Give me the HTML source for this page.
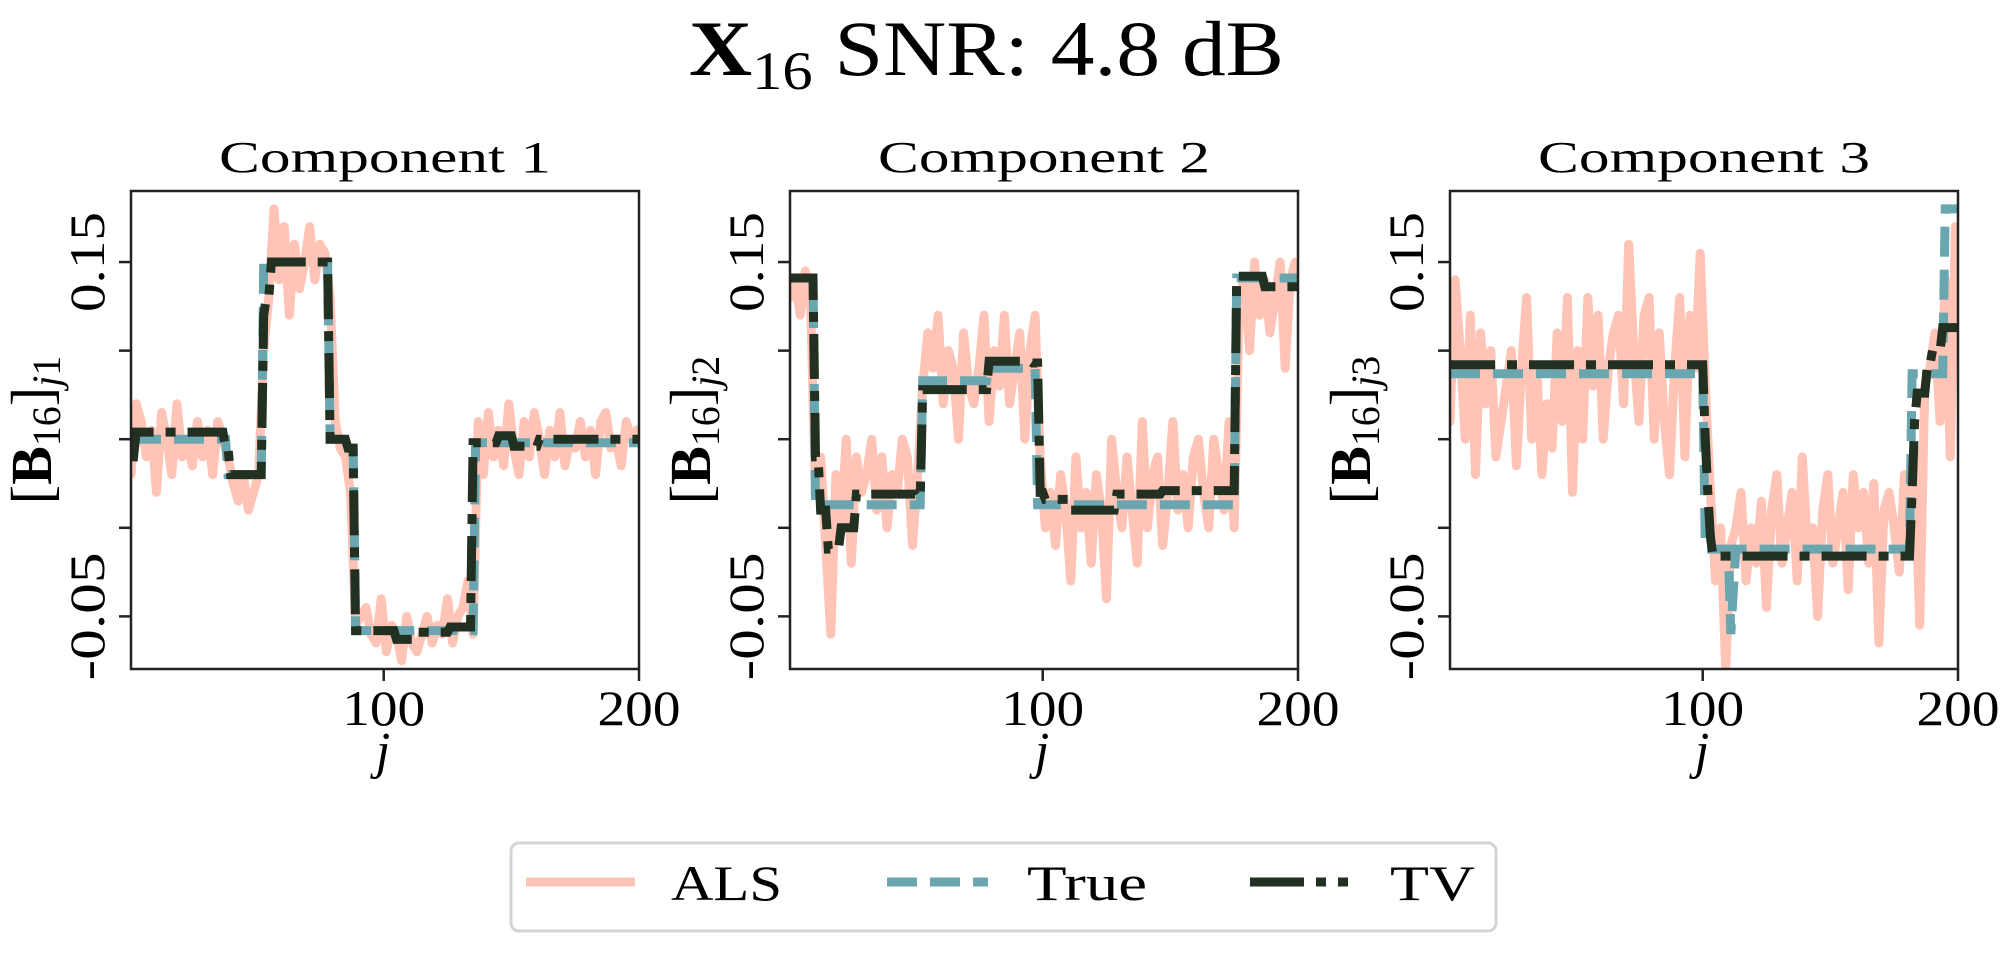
<!DOCTYPE html>
<html><head><meta charset="utf-8">
<style>
html,body{margin:0;padding:0;background:#fff;}
svg{display:block;}
text{font-family:"Liberation Serif","DejaVu Serif",serif;fill:#000;}
</style></head>
<body>
<svg id="chart" width="2008" height="956" viewBox="0 0 2008 956" xmlns="http://www.w3.org/2000/svg">
  <text x="689" y="75" font-size="78" textLength="595" lengthAdjust="spacingAndGlyphs"><tspan font-weight="bold">X</tspan><tspan font-size="54" dy="14">16</tspan><tspan dy="-14"> SNR: 4.8 dB</tspan></text>
  <g id="panels"></g>
  <g>
    <rect x="511" y="843" width="985" height="88" rx="8" fill="#fff" stroke="#d4d4d4" stroke-width="3"/>
    <line x1="526" y1="882" x2="635" y2="882" stroke="#ffc4b6" stroke-width="9"/>
    <text x="671" y="900" font-size="50" textLength="111" lengthAdjust="spacingAndGlyphs">ALS</text>
    <line x1="887" y1="882" x2="988" y2="882" stroke="#6aa6b0" stroke-width="9" stroke-dasharray="30 13"/>
    <text x="1027" y="900" font-size="50" textLength="120" lengthAdjust="spacingAndGlyphs">True</text>
    <line x1="1250" y1="882" x2="1350" y2="882" stroke="#213021" stroke-width="9" stroke-dasharray="54 12 10 12 10 12"/>
    <text x="1390" y="900" font-size="50" textLength="85" lengthAdjust="spacingAndGlyphs">TV</text>
  </g>
</svg>
<script>
// ---- data ----
const componentTitles = ["Component 1", "Component 2", "Component 3"];
const xTicks = [100, 200];
const yTicks = [0.15, 0.10, 0.05, 0.00, -0.05];
const yTickLabels = ["0.15", "", "", "", "-0.05"];
// ALS estimates sampled at j = 1,3,5,...,199
const als1 = [0.03,0.07,0.06,0.04,0.055,0.02,0.065,0.05,0.03,0.07,0.04,0.05,0.035,0.06,0.04,0.055,0.03,0.06,0.05,
  0.04,0.025,0.015,0.03,0.01,0.02,0.03,
  0.10,0.13,0.18,0.14,0.17,0.12,0.16,0.135,0.15,0.17,0.14,0.16,0.155,
  0.13,0.06,0.045,0.04,0.02,
  -0.055,-0.05,-0.045,-0.06,-0.065,-0.04,-0.07,-0.055,-0.06,-0.075,-0.05,-0.065,-0.07,-0.06,-0.05,-0.065,-0.055,-0.06,-0.04,-0.065,-0.05,-0.045,-0.03,-0.06,
  0.06,0.03,0.065,0.04,0.055,0.035,0.07,0.045,0.03,0.06,0.04,0.065,0.05,0.03,0.055,0.04,0.065,0.035,0.05,0.045,0.06,0.04,0.055,0.03,0.06,0.065,0.045,0.05,0.035,0.06,0.05,0.055];
const als2 = [0.13,0.14,0.12,0.145,0.13,
  0.02,0.04,-0.01,-0.06,0.03,0.0,0.05,-0.02,0.04,0.02,0.03,0.05,0.01,0.04,0.0,0.03,0.02,0.05,0.04,-0.01,0.03,
  0.08,0.11,0.09,0.12,0.07,0.10,0.09,0.05,0.11,0.08,0.07,0.09,0.12,0.06,0.10,0.08,0.12,0.07,0.09,0.11,0.05,0.10,0.12,
  0.04,0.0,0.02,-0.01,0.03,0.01,-0.03,0.04,0.0,0.02,-0.02,0.03,0.01,-0.04,0.05,0.02,0.0,0.04,0.01,-0.02,0.06,0.0,0.03,0.04,-0.01,0.02,0.06,0.01,0.03,0.0,0.04,0.05,0.02,0.0,0.05,0.03,0.01,0.06,0.0,
  0.13,0.14,0.10,0.15,0.12,0.14,0.11,0.13,0.15,0.09,0.14,0.15];
const als3 = [0.06,0.14,0.10,0.05,0.12,0.03,0.11,0.07,0.10,0.04,0.06,0.08,0.10,0.035,0.09,0.13,0.05,0.09,0.03,0.07,0.045,0.11,0.06,0.13,0.02,0.10,0.05,0.13,0.08,0.12,0.05,0.09,0.11,0.12,0.07,0.16,0.10,0.06,0.12,0.13,0.05,0.11,0.06,0.03,0.09,0.13,0.04,0.12,0.09,0.155,
  0.08,0.02,-0.03,0.0,-0.08,-0.01,0.0,0.02,-0.03,0.0,-0.02,0.015,-0.045,0.01,0.03,-0.02,0.0,0.02,-0.03,0.04,-0.01,0.0,-0.05,0.01,0.03,-0.02,0.0,0.02,-0.035,0.03,0.0,0.02,-0.02,0.025,-0.065,0.01,0.02,0.0,-0.025,0.03,0.0,0.045,-0.055,0.08,0.09,0.11,0.06,0.14,0.04,0.17];
// piecewise-constant series: segment start j and level
const trueStarts1 = [1,39,53,79,89,136];
const trueLevels1 = [0.05,0.03,0.15,0.05,-0.058,0.048];
const tvStarts1 = [1,3,38,40,53,54,56,79,86,89,105,113,126,135,145,151,161];
const tvLevels1 = [0.04,0.054,0.045,0.03,0.12,0.13,0.15,0.05,0.045,-0.058,-0.063,-0.059,-0.056,0.048,0.052,0.046,0.05];
const trueStarts2 = [1,11,53,79,98,176];
const trueLevels2 = [0.141,0.013,0.083,0.09,0.013,0.141];
const tvStarts2 = [1,11,13,16,21,27,51,53,79,96,99,101,111,129,147,176,187];
const tvLevels2 = [0.141,0.04,0.01,-0.012,0.0,0.019,0.017,0.078,0.094,0.093,0.02,0.016,0.01,0.019,0.021,0.142,0.136];
const trueStarts3 = [1,101,111,112,113,182,195];
const trueLevels3 = [0.087,-0.012,-0.06,-0.035,-0.012,0.087,0.18];
const tvStarts3 = [1,101,102,103,104,182,183,184,188,190,194];
const tvLevels3 = [0.092,0.05,0.02,-0.005,-0.016,0.02,0.06,0.076,0.092,0.1,0.113];

const alsSeries = [als1, als2, als3];
const trueStarts = [trueStarts1, trueStarts2, trueStarts3];
const trueLevels = [trueLevels1, trueLevels2, trueLevels3];
const tvStarts = [tvStarts1, tvStarts2, tvStarts3];
const tvLevels = [tvLevels1, tvLevels2, tvLevels3];

// ---- layout ----
const NS = "http://www.w3.org/2000/svg";
const panelLefts = [131, 790, 1450];
const PW = 508, TOP = 191, BOTTOM = 669;
const XMIN = 1, XMAX = 200, YMIN = -0.0797, YMAX = 0.1901;
function xScale(left, j){ return left + (j - XMIN) / (XMAX - XMIN) * PW; }
function yScale(v){ return BOTTOM - (v - YMIN) / (YMAX - YMIN) * (BOTTOM - TOP); }
function expandSteps(starts, levels){
  const out = [];
  for (let j = 1; j <= 200; j++){
    let k = 0;
    for (let s = 0; s < starts.length; s++) if (starts[s] <= j) k = s;
    out.push([j, levels[k]]);
  }
  return out;
}
function mk(tag, attrs){ const e = document.createElementNS(NS, tag); for (const k in attrs) e.setAttribute(k, attrs[k]); return e; }
const panels = document.getElementById('panels');
const defs = mk('defs', {});
panels.appendChild(defs);

for (let p = 0; p < 3; p++){
  const L = panelLefts[p];
  const g = mk('g', {});
  
  
  panels.appendChild(g);
  const cp = mk('clipPath', {id: 'clip' + p});
  cp.appendChild(mk('rect', {x: L, y: TOP, width: PW, height: BOTTOM - TOP}));
  defs.appendChild(cp);

  const title = mk('text', {x: L + PW/2, y: 172, 'font-size': 44, 'text-anchor': 'middle', textLength: 332, lengthAdjust: 'spacingAndGlyphs'});
  title.textContent = componentTitles[p];
  
  
  g.appendChild(title);

  const lines = mk('g', {'clip-path': 'url(#clip' + p + ')', fill: 'none'});
  g.appendChild(lines);
  const alsPts = alsSeries[p].map((v, i) => xScale(L, 1 + 2*i).toFixed(1) + ',' + yScale(v).toFixed(1)).join(' ');
  const als = mk('polyline', {points: alsPts, stroke: '#ffc4b6', 'stroke-width': 9, 'stroke-linejoin': 'round', 'stroke-linecap': 'round'});
  
  
  lines.appendChild(als);
  const tr = expandSteps(trueStarts[p], trueLevels[p]).map(d => xScale(L, d[0]).toFixed(1) + ',' + yScale(d[1]).toFixed(1)).join(' ');
  const trueLine = mk('polyline', {points: tr, stroke: '#6aa6b0', 'stroke-width': 9, 'stroke-dasharray': '30 13'});
  
  
  lines.appendChild(trueLine);
  const tv = expandSteps(tvStarts[p], tvLevels[p]).map(d => xScale(L, d[0]).toFixed(1) + ',' + yScale(d[1]).toFixed(1)).join(' ');
  const tvLine = mk('polyline', {points: tv, stroke: '#213021', 'stroke-width': 9, 'stroke-dasharray': '45 12 10 12'});
  
  
  lines.appendChild(tvLine);

  const frame = mk('rect', {x: L, y: TOP, width: PW, height: BOTTOM - TOP, fill: 'none', stroke: '#222', 'stroke-width': 2.5});
  
  
  g.appendChild(frame);

  xTicks.forEach(t => {
    const x = xScale(L, t);
    g.appendChild(mk('line', {x1: x, y1: BOTTOM, x2: x, y2: BOTTOM + 12, stroke: '#222', 'stroke-width': 2.5}));
    const tl = mk('text', {x: x, y: 725, 'font-size': 50, 'text-anchor': 'middle', textLength: 83, lengthAdjust: 'spacingAndGlyphs'});
    tl.textContent = String(t);
    
    
    g.appendChild(tl);
  });
  yTicks.forEach((t, i) => {
    const y = yScale(t);
    g.appendChild(mk('line', {x1: L - 12, y1: y, x2: L, y2: y, stroke: '#222', 'stroke-width': 2.5}));
    if (yTickLabels[i]){
      const len = yTickLabels[i].length > 4 ? 128 : 100;
      const tl = mk('text', {x: 0, y: 0, 'font-size': 50, 'text-anchor': 'middle', textLength: len, lengthAdjust: 'spacingAndGlyphs', transform: 'translate(' + (L - 27) + ',' + y + ') rotate(-90)'});
      tl.textContent = yTickLabels[i];
      
      
      g.appendChild(tl);
    }
  });
  const xl = mk('text', {x: L + PW/2 - 2, y: 768, 'font-size': 52, 'font-style': 'italic', 'text-anchor': 'middle'});
  xl.textContent = 'j';
  
  
  g.appendChild(xl);
  const yl = mk('text', {x: 0, y: 0, 'font-size': 58, 'text-anchor': 'middle', transform: 'translate(' + (L - 80) + ',430) rotate(-90)'});
  yl.innerHTML = '[<tspan font-weight="bold">B</tspan><tspan font-size="40" dy="9">16</tspan><tspan dy="-9">]</tspan><tspan font-size="40" dy="9" font-style="italic">j</tspan><tspan font-size="40">' + (p+1) + '</tspan>';
  
  
  g.appendChild(yl);
}
</script>
</body></html>
